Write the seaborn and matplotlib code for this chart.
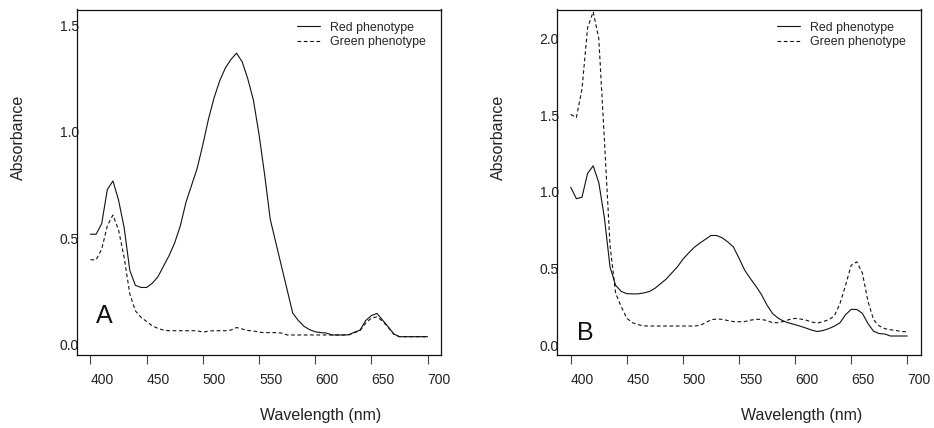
import numpy as np
import pandas as pd
import matplotlib
matplotlib.use("Agg")
import matplotlib.pyplot as plt
import seaborn as sns

sns.set_theme(style="white")
plt.rcParams['font.family'] = ['Liberation Sans', 'DejaVu Sans']

wavelength = list(range(400, 705, 5))

red_A = [0.52, 0.52, 0.57, 0.73, 0.77, 0.68, 0.55, 0.35, 0.28, 0.27,
         0.27, 0.29, 0.32, 0.37, 0.42, 0.48, 0.56, 0.67, 0.75, 0.83,
         0.94, 1.06, 1.16, 1.24, 1.30, 1.34, 1.37, 1.33, 1.25, 1.15,
         0.99, 0.80, 0.59, 0.48, 0.37, 0.26, 0.15, 0.115, 0.088, 0.072,
         0.062, 0.058, 0.056, 0.047, 0.047, 0.047, 0.048, 0.06, 0.07, 0.115,
         0.138, 0.148, 0.117, 0.085, 0.052, 0.039, 0.039, 0.039, 0.039, 0.039,
         0.039]
green_A = [0.40, 0.40, 0.45, 0.56, 0.61, 0.54, 0.41, 0.24, 0.16, 0.13,
           0.11, 0.09, 0.078, 0.07, 0.067, 0.067, 0.067, 0.067, 0.067, 0.067,
           0.06, 0.065, 0.067, 0.067, 0.067, 0.07, 0.082, 0.075, 0.068, 0.066,
           0.06, 0.058, 0.058, 0.058, 0.056, 0.047, 0.047, 0.047, 0.047, 0.047,
           0.047, 0.047, 0.047, 0.047, 0.047, 0.047, 0.048, 0.058, 0.068, 0.103,
           0.126, 0.132, 0.112, 0.083, 0.05, 0.039, 0.039, 0.039, 0.039, 0.039,
           0.039]
red_B = [1.03, 0.955, 0.965, 1.12, 1.17, 1.06, 0.83, 0.51, 0.39, 0.35,
         0.335, 0.334, 0.334, 0.34, 0.349, 0.37, 0.40, 0.43, 0.47, 0.51,
         0.56, 0.60, 0.637, 0.665, 0.69, 0.715, 0.715, 0.70, 0.673, 0.64,
         0.567, 0.49, 0.435, 0.385, 0.33, 0.26, 0.205, 0.175, 0.155, 0.143,
         0.133, 0.122, 0.11, 0.097, 0.088, 0.095, 0.107, 0.123, 0.145, 0.198,
         0.233, 0.232, 0.207, 0.14, 0.09, 0.075, 0.072, 0.059, 0.059, 0.059,
         0.059]
green_B = [1.505, 1.485, 1.67, 2.07, 2.175, 2.0, 1.34, 0.65, 0.338, 0.251,
           0.174, 0.146, 0.133, 0.125, 0.124, 0.124, 0.124, 0.124, 0.124, 0.124,
           0.124, 0.124, 0.124, 0.128, 0.145, 0.165, 0.17, 0.168, 0.16, 0.153,
           0.152, 0.153, 0.162, 0.168, 0.167, 0.16, 0.145, 0.146, 0.155, 0.167,
           0.174, 0.17, 0.162, 0.15, 0.143, 0.153, 0.165, 0.19, 0.27, 0.39,
           0.52, 0.543, 0.47, 0.285, 0.165, 0.125, 0.107, 0.10, 0.095, 0.088,
           0.087]

series_names = ["Red phenotype", "Green phenotype"]
x_ticks = [400, 450, 500, 550, 600, 650, 700]
y_ticks_A = [0.0, 0.5, 1.0, 1.5]
y_ticks_B = [0.0, 0.5, 1.0, 1.5, 2.0]
panel_labels = ["A", "B"]

W, H = 934, 428
fig = plt.figure(figsize=(W / 100, H / 100), dpi=100)
fig.patch.set_facecolor("white")

def frac(px_left, px_top, px_right, px_bottom):
    return [px_left / W, 1 - px_bottom / H, (px_right - px_left) / W, (px_bottom - px_top) / H]

axA = fig.add_axes(frac(77, 9.5, 441, 355))
axB = fig.add_axes(frac(557.3, 9.5, 920.7, 355))

ink = "#111111"
dash_style = (3.3, 2.4)

def draw(ax, red, green, yticks, ylim, letter, letter_pos, xlab_x):
    df = pd.DataFrame({
        "wavelength": wavelength * 2,
        "absorbance": list(red) + list(green),
        "phenotype": [series_names[0]] * len(wavelength) + [series_names[1]] * len(wavelength),
    })
    sns.lineplot(data=df, x="wavelength", y="absorbance", style="phenotype",
                 hue="phenotype", palette=[ink, ink],
                 dashes={series_names[0]: "", series_names[1]: dash_style},
                 linewidth=0.8, ax=ax, legend=False, sort=False)
    ax.set_xlim(388, 712)
    ax.set_ylim(*ylim)
    ax.set_xticks(x_ticks)
    ax.set_xticklabels([str(t) for t in x_ticks], ha="left")
    ax.set_yticks(yticks)
    ax.set_yticklabels([f"{t:.1f}" for t in yticks])
    ax.set_xlabel("")
    ax.set_ylabel("")
    for s in ax.spines.values():
        s.set_visible(True)
        s.set_color(ink)
        s.set_linewidth(0.9)
    ax.tick_params(axis="x", direction="out", length=6.8, width=0.8, color="#444444",
                   pad=6, labelsize=10, labelcolor="#222222", bottom=True)
    ax.tick_params(axis="y", length=0, pad=-1.2, labelsize=10, labelcolor="#222222", left=True)
    lines = ax.get_lines()
    ax.legend(lines[:2], series_names, loc="upper left",
              bbox_to_anchor=(0.604, 0.965), frameon=False, fontsize=8.9,
              handlelength=1.85, handletextpad=0.85, labelspacing=0.2,
              borderpad=0, borderaxespad=0)
    ax.text(letter_pos[0], letter_pos[1], letter, transform=ax.transAxes,
            fontsize=18, ha="center", va="center", color=ink)
    ax.text(xlab_x, -0.174, "Wavelength (nm)", transform=ax.transAxes,
            fontsize=11.5, ha="center", va="center", color="#222222")
    ax.text(-0.162, 0.631, "Absorbance", transform=ax.transAxes, rotation=90,
            fontsize=11.5, ha="center", va="center", color="#222222")

draw(axA, red_A, green_A, y_ticks_A, (-0.047, 1.575), panel_labels[0], (0.074, 0.113), 0.668)
draw(axB, red_B, green_B, y_ticks_B, (-0.065, 2.19), panel_labels[1], (0.078, 0.064), 0.671)

fig.savefig("out.png", dpi=100, facecolor="white")
